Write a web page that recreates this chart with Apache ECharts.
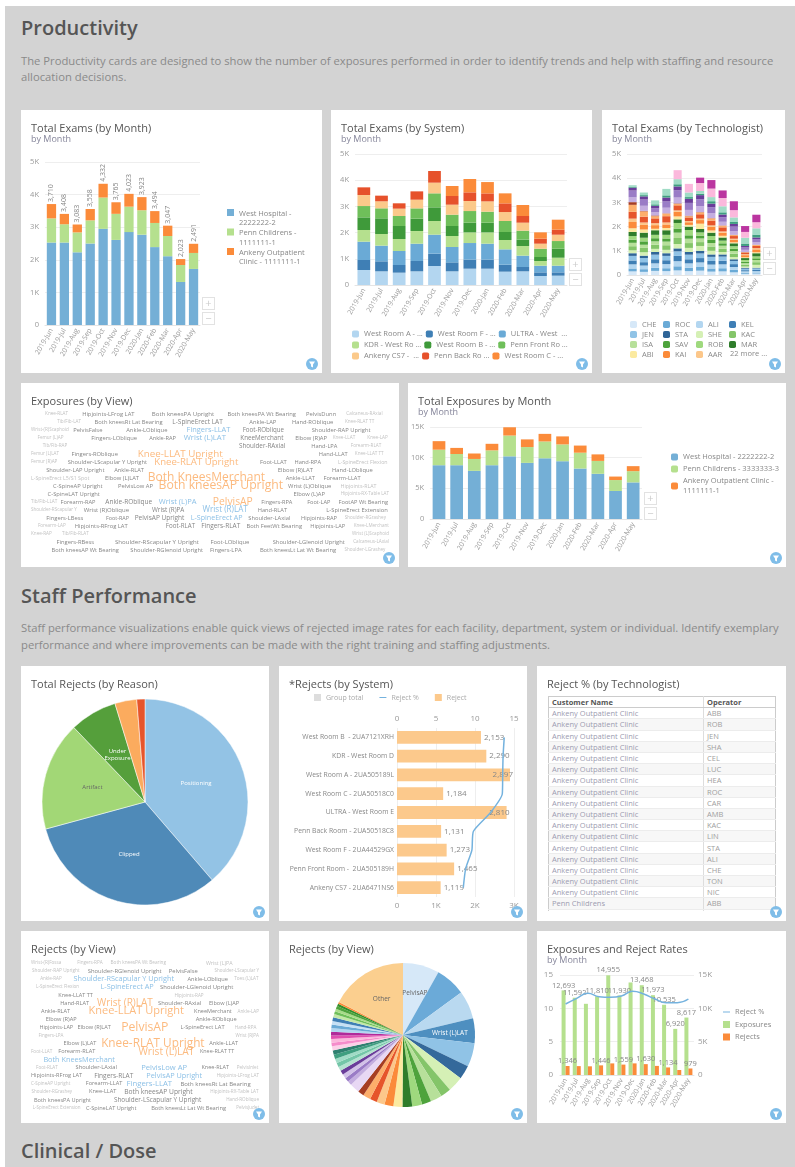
<!DOCTYPE html>
<html lang="en">
<head>
<meta charset="UTF-8">
<title>Productivity</title>
<script src="https://cdn.jsdelivr.net/npm/echarts@6/dist/echarts.min.js"></script>
<style>
    html, body { margin: 0; padding: 0; background: #fff; }
    body { width: 795px; height: 1167px; position: relative; overflow: hidden; font-family: "Open Sans", sans-serif; }
    .page { position: absolute; left: 5px; top: 6px; right: 0; bottom: 0; background: #d3d3d3; }
    .h { position: absolute; left: 21px; font-size: 20px; font-weight: 600; color: #555; white-space: nowrap; line-height: 26px; }
    .p { position: absolute; left: 21px; font-size: 11.25px; color: #8a8a8a; white-space: nowrap; line-height: 16px; }
    .card { position: absolute; background: #fff; }
    .card .chart { position: absolute; left: 0; top: 0; right: 0; bottom: 0; }
    .title { position: absolute; left: 10px; top: 10px; font-size: 11px; color: #555; white-space: nowrap; line-height: 15px; z-index: 2; }
    .sub { position: absolute; left: 10px; top: 23px; font-size: 9px; color: #85859a; white-space: nowrap; line-height: 12px; z-index: 2; }
    .zoom { position: absolute; width: 11px; height: 11px; border: 1px solid #e2e2e2; color: #ccc; font-size: 11px; line-height: 10px; text-align: center; z-index: 2; }
    .filter { position: absolute; right: 4px; bottom: 3px; width: 12px; height: 12px; border-radius: 6px; background: #7fbde8; z-index: 2; }
    .filter svg { display: block; }
    table { position: absolute; left: 11px; top: 30px; width: 228px; border-collapse: collapse; font-size: 7.5px; color: #9c9cb0; border: 1px solid #ccc; }
    td, th { padding: 0 3px; height: 10.2px; line-height: 10px; border-bottom: 1px solid #ececec; text-align: left; white-space: nowrap; }
    th { color: #555; font-weight: 700; border-bottom: 1px solid #ccc; }
    tr.alt td { background: #f7f7f7; }
    td.op { color: #a0a0a0; border-left: 1px solid #ddd; }
    th.op { border-left: 1px solid #ddd; width: 65px; }
    .clip { position: absolute; left: 0; top: 0; width: 100%; height: 245px; overflow: hidden; }
</style>
</head>
<body>
<div class="page"></div>
<div class="h" style="top:15px">Productivity</div>
<div class="p" style="top:53px">The Productivity cards are designed to show the number of exposures performed in order to identify trends and help with staffing and resource</div>
<div class="p" style="top:69px">allocation decisions.</div>
<div class="h" style="top:583px">Staff Performance</div>
<div class="p" style="top:620px">Staff performance visualizations enable quick views of rejected image rates for each facility, department, system or individual. Identify exemplary</div>
<div class="p" style="top:637px">performance and where improvements can be made with the right training and staffing adjustments.</div>
<div class="h" style="top:1138px">Clinical / Dose</div>

<script>
var months = ['2019-Jun', '2019-Jul', '2019-Aug', '2019-Sep', '2019-Oct', '2019-Nov', '2019-Dec', '2020-Jan', '2020-Feb', '2020-Mar', '2020-Apr', '2020-May'];

// Total Exams (by Month)
var examNames = ['West Hospital - 2222222-2', 'Penn Childrens - 1111111-1', 'Ankeny Outpatient Clinic - 1111111-1'];
var examWest = [2530, 2530, 2230, 2500, 2950, 2610, 2850, 2770, 2390, 2110, 1320, 1720];
var examPenn = [740, 560, 610, 710, 960, 800, 780, 750, 740, 620, 520, 490];
var examAnkeny = [440, 318, 243, 348, 422, 355, 393, 403, 364, 317, 183, 281];
var examTotals = [3710, 3408, 3083, 3558, 4332, 3765, 4023, 3923, 3494, 3047, 2023, 2491];

// Total Exams (by System)
var systemNames = ['West Room A - 2UA505189L', 'West Room F - 2UA44529GX', 'ULTRA - West Room E', 'KDR - West Room D', 'West Room B - 2UA7121XRH', 'Penn Front Room - 2UA505189H', 'Ankeny CS7 - 2UA6471NS6', 'Penn Back Room - 2UA50518C8', 'West Room C - 2UA50518C0'];
var sysA = [572, 522, 471, 522, 725, 522, 623, 623, 509, 522, 343, 356];
var sysF = [382, 382, 293, 394, 471, 343, 343, 343, 267, 165, 140, 127];
var sysU = [700, 598, 534, 661, 725, 585, 636, 611, 585, 433, 254, 254];
var sysK = [445, 445, 458, 483, 522, 420, 407, 432, 356, 369, 178, 305];
var sysB = [483, 598, 496, 471, 522, 382, 369, 369, 305, 242, 153, 343];
var sysPF = [432, 382, 382, 394, 534, 432, 445, 420, 420, 343, 318, 293];
var sysAn = [420, 267, 280, 331, 407, 382, 382, 394, 343, 305, 191, 242];
var sysPB = [293, 216, 204, 318, 445, 331, 331, 305, 331, 254, 191, 191];
var sysC = [0, 0, 0, 0, 0, 382, 509, 432, 382, 420, 242, 382];

// Total Exams (by Technologist), bottom of the stack first
var techNames = ['CHE', 'ROC', 'ALI', 'KEL', 'JEN', 'STA', 'SHE', 'KAC', 'ISA', 'SAV', 'ROB', 'MAR', 'ABI', 'KAI', 'AAR', 'SHA', 'CEL', 'LUC', 'HEA', 'CAR', 'AMB', 'LIN', 'TON', 'NIC', 'ABB'];
var techValues = [
    [150, 130, 170, 160, 190, 160, 180, 140, 150, 110, 50, 60],
    [120, 110, 130, 120, 170, 140, 150, 130, 130, 100, 40, 40],
    [170, 150, 180, 170, 210, 180, 190, 160, 160, 120, 60, 60],
    [160, 140, 170, 160, 220, 170, 180, 150, 150, 120, 50, 50],
    [190, 170, 190, 180, 190, 190, 190, 170, 170, 130, 60, 60],
    [110, 100, 110, 110, 120, 110, 110, 100, 90, 70, 40, 30],
    [120, 140, 130, 140, 180, 170, 200, 150, 100, 90, 50, 120],
    [170, 180, 170, 190, 250, 200, 160, 180, 140, 140, 80, 110],
    [140, 130, 140, 150, 220, 180, 150, 140, 120, 110, 60, 90],
    [130, 140, 130, 130, 170, 140, 120, 130, 100, 90, 60, 70],
    [150, 150, 140, 150, 230, 220, 130, 160, 110, 110, 70, 80],
    [170, 210, 190, 190, 150, 140, 140, 140, 130, 120, 80, 130],
    [150, 130, 60, 90, 120, 70, 220, 90, 70, 40, 30, 40],
    [260, 190, 150, 150, 190, 110, 150, 150, 130, 110, 90, 120],
    [140, 100, 80, 80, 60, 50, 60, 60, 50, 40, 40, 50],
    [280, 240, 200, 260, 210, 150, 180, 200, 170, 110, 60, 90],
    [290, 220, 90, 110, 60, 50, 80, 90, 70, 40, 20, 40],
    [110, 20, 30, 10, 20, 20, 10, 10, 10, 10, 10, 10],
    [200, 210, 130, 230, 240, 240, 250, 200, 150, 150, 90, 100],
    [280, 260, 170, 260, 300, 290, 280, 250, 190, 190, 100, 120],
    [120, 130, 100, 160, 160, 170, 170, 150, 110, 110, 60, 80],
    [30, 50, 60, 90, 90, 70, 60, 100, 90, 80, 100, 120],
    [70, 108, 163, 268, 210, 190, 110, 170, 250, 190, 240, 260],
    [0, 0, 0, 0, 372, 355, 330, 350, 340, 300, 240, 250],
    [0, 0, 0, 0, 0, 0, 223, 353, 314, 367, 243, 311]
];
var techMore = '22 more ...';

// Total Exposures by Month
var expoNames = ['West Hospital - 2222222-2', 'Penn Childrens - 3333333-3', 'Ankeny Outpatient Clinic - 1111111-1'];
var expoWest = [8770, 8770, 7850, 8770, 10220, 9150, 9900, 9420, 8230, 7370, 4570, 5970];
var expoPenn = [2530, 1830, 1940, 2420, 3390, 2580, 2740, 2740, 2580, 2100, 1780, 1830];
var expoAnkeny = [1393, 992, 890, 1070, 1345, 1250, 1240, 1308, 1163, 1065, 570, 817];

// Exposures (by View), word and count, one list per line of the cloud
var expoWords = [
    [['Knee-RLAT', 120], ['Hipjoints-LFrog LAT', 240], ['Both kneesPA Upright', 270], ['Both kneesPA Wt Bearing', 240], ['PelvisDunn', 240], ['Calcaneus-RAxial', 120]],
    [['Tib/Fib-LAT', 120], ['Both kneesRt Lat Bearing', 240], ['L-SpineErect LAT', 310], ['Ankle-LAP', 240], ['Hand-ROblique', 240], ['Knee-RLAT TT', 120]],
    [['Wrist-(R)Scaphoid', 120], ['PelvisFalse', 240], ['Ankle-LOblique', 240], ['Fingers-LLAT', 400], ['Foot-ROblique', 280], ['Shoulder-RAP Upright', 240]],
    [['Femur (L)AP', 120], ['Fingers-LOblique', 240], ['Ankle-RAP', 220], ['Wrist (L)LAT', 430], ['KneeMerchant', 290], ['Elbow (R)AP', 240], ['Knee-LLAT', 120], ['Knee-LAP', 120]],
    [['Tib/Fib-RAP', 120], ['Shoulder-RAxial', 290], ['Hand-LPA', 230], ['Forearm-RLAT', 120]],
    [['Femur (L)LAT', 120], ['Fingers-ROblique', 240], ['Knee-LLAT Upright', 640], ['Hand-LLAT', 230], ['Knee-LLAT TT', 120]],
    [['Femur (R)AP', 120], ['Shoulder-LScapular Y Upright', 240], ['Knee-RLAT Upright', 620], ['Foot-LLAT', 240], ['Hand-RPA', 230], ['L-SpineErect Flexion', 190]],
    [['Shoulder-LAP Upright', 240], ['Ankle-RLAT', 230], ['Elbow (R)LAT', 250], ['Hand-LOblique', 240]],
    [['L-SpineErect L5/S1 Spot', 190], ['Elbow (L)LAT', 240], ['Both KneesMerchant', 860], ['Ankle-LLAT', 230], ['Forearm-LLAT', 230]],
    [['C-SpineAP Upright', 240], ['PelvisLow AP', 240], ['Both kneesAP Upright', 880], ['Wrist (L)Oblique', 240], ['Hipjoints-RLAT', 190]],
    [['C-SpineLAT Upright', 240], ['Elbow (L)AP', 240], ['Hipjoints-RX-Table LAT', 120]],
    [['Tib/Fib-LLAT', 120], ['Forearm-RAP', 230], ['Ankle-ROblique', 310], ['Wrist (L)PA', 410], ['PelvisAP', 690], ['Fingers-RPA', 220], ['Foot-LAP', 220], ['FootAP Wt Bearing', 230]],
    [['Shoulder-RScapular Y', 120], ['Wrist (R)Oblique', 260], ['Wrist (R)PA', 290], ['Wrist (R)LAT', 470], ['Hand-RLAT', 230], ['L-SpineErect Extension', 240]],
    [['Fingers-LBess', 240], ['Foot-RAP', 200], ['PelvisAP Upright', 310], ['L-SpineErect AP', 370], ['Shoulder-LAxial', 240], ['Hipjoints-RAP', 230], ['Shoulder-RGrashey', 120]],
    [['Forearm-LAP', 120], ['Hipjoints-RFrog LAT', 240], ['Foot-RLAT', 280], ['Fingers-RLAT', 310], ['Both FeetWt Bearing', 240], ['Hipjoints-LAP', 220], ['Knee-LMerchant', 120]],
    [['Knee-RAP', 120], ['Tib/Fib-RLAT', 120], ['Wrist (L)Scaphoid', 120]],
    [['Fingers-RBess', 240], ['Shoulder-RScapular Y Upright', 270], ['Foot-LOblique', 250], ['Shoulder-LGlenoid Upright', 240], ['Calcaneus-LAxial', 120]],
    [['Both kneesAP Wt Bearing', 230], ['Shoulder-RGlenoid Upright', 240], ['Fingers-LPA', 240], ['Both kneesLt Lat Wt Bearing', 240], ['Shoulder-LGrashey', 120]]
];

// Total Rejects (by Reason)
var reasonNames = ['Positioning', 'Clipped', 'Artifact', 'Under\nExposure', 'Exposure', 'Other'];
var reasonValues = [6200, 5140, 2740, 1190, 550, 205];

// *Rejects (by System)
var rejectSystems = ['West Room B  - 2UA7121XRH', 'KDR - West Room D', 'West Room A - 2UA505189L', 'West Room C - 2UA50518C0', 'ULTRA - West Room E', 'Penn Back Room - 2UA50518C8', 'West Room F - 2UA44529GX', 'Penn Front Room -  2UA505189H', 'Ankeny CS7 - 2UA6471NS6'];
var rejectCounts = [2153, 2290, 2897, 1184, 2810, 1131, 1273, 1465, 1119];
var rejectPercents = [13.75, 13.6, 13.55, 13.5, 12.0, 9.8, 9.6, 8.8, 8.5];

// Reject % (by Technologist)
var tableCustomers = ['Ankeny Outpatient Clinic', 'Ankeny Outpatient Clinic', 'Ankeny Outpatient Clinic', 'Ankeny Outpatient Clinic', 'Ankeny Outpatient Clinic', 'Ankeny Outpatient Clinic', 'Ankeny Outpatient Clinic', 'Ankeny Outpatient Clinic', 'Ankeny Outpatient Clinic', 'Ankeny Outpatient Clinic', 'Ankeny Outpatient Clinic', 'Ankeny Outpatient Clinic', 'Ankeny Outpatient Clinic', 'Ankeny Outpatient Clinic', 'Ankeny Outpatient Clinic', 'Ankeny Outpatient Clinic', 'Ankeny Outpatient Clinic', 'Penn Childrens', 'Penn Childrens'];
var tableOperators = ['ABB', 'ROB', 'JEN', 'SHA', 'CEL', 'LUC', 'HEA', 'ROC', 'CAR', 'AMB', 'KAC', 'LIN', 'STA', 'ALI', 'CHE', 'TON', 'NIC', 'ABB', 'ALI'];

// Rejects (by View) cloud
var rejectWords = [
    [['Wrist-(R)Fossa', 120], ['Fingers-RPA', 120], ['Both kneesPA Wt Bearing', 130], ['Wrist (L)PA', 190]],
    [['Shoulder-RAP Upright', 130], ['Shoulder-RGlenoid Upright', 250], ['PelvisFalse', 240], ['Shoulder-LScapular Y', 110]],
    [['Ankle-RAP', 110], ['Shoulder-RScapular Y Upright', 390], ['Ankle-LOblique', 230], ['Toes (L)LAT', 120]],
    [['L-SpineErect Flexion', 120], ['L-SpineErect AP', 390], ['Shoulder-LGlenoid Upright', 250]],
    [['Knee-LLAT TT', 210], ['Hipjoints-RAP', 120]],
    [['Hand-RLAT', 220], ['Wrist (R)LAT', 660], ['Shoulder-RAxial', 250], ['Elbow (L)AP', 220]],
    [['Ankle-RLAT', 220], ['Knee-LLAT Upright', 760], ['KneeMerchant', 210], ['Ankle-LAP', 120]],
    [['Elbow (R)AP', 220], ['Ankle-ROblique', 230]],
    [['Hipjoints-LAP', 200], ['Elbow (R)LAT', 220], ['PelvisAP', 880], ['L-SpineErect LAT', 230], ['Hand-RPA', 120]],
    [['Fingers-LPA', 120], ['Wrist (R)PA', 120]],
    [['Elbow (L)LAT', 220], ['Knee-RLAT Upright', 840], ['Ankle-LLAT', 220]],
    [['Foot-LLAT', 120], ['Forearm-RLAT', 220], ['Wrist (L)LAT', 680], ['Knee-RLAT TT', 200]],
    [['Both KneesMerchant', 390]],
    [['Foot-RLAT', 120], ['Shoulder-LAxial', 230], ['PelvisLow AP', 420], ['Knee-RLAT', 210], ['PelvisInlet', 120]],
    [['Hipjoints-RFrog LAT', 220], ['Fingers-RLAT', 310], ['PelvisAP Upright', 390], ['Hipjoints-LFrog LAT', 130]],
    [['C-SpineAP Upright', 120], ['Forearm-LLAT', 220], ['Fingers-LLAT', 430], ['Both kneesRt Lat Bearing', 260]],
    [['Shoulder-RGrashey', 110], ['Knee-LLAT', 220], ['Both kneesAP Upright', 330], ['Hipjoints-RX-Table LAT', 120]],
    [['Both kneesPA Upright', 220], ['Shoulder-LScapular Y Upright', 300], ['Hand-ROblique', 120]],
    [['L-SpineErect Extension', 110], ['C-SpineLAT Upright', 220], ['Both kneesLt Lat Wt Bearing', 230], ['PelvisJudet', 110]]
];

// Rejects (by View) pie
var viewNames = ['PelvisAP', 'Knee-RLAT Upright', 'Knee-LLAT Upright', 'Wrist (L)LAT', 'Wrist (R)LAT', 'PelvisLow AP', 'Both kneesAP Upright', 'Fingers-LLAT', 'Fingers-RLAT', 'PelvisAP Upright', 'L-SpineErect AP', 'Both KneesMerchant', 'Shoulder-RScapular Y Upright', 'Shoulder-LScapular Y Upright', 'Ankle-ROblique', 'Knee-LLAT', 'Hand-RLAT', 'Elbow (R)LAT', 'Elbow (L)LAT', 'Elbow (R)AP', 'Elbow (L)AP', 'Forearm-RLAT', 'Forearm-LLAT', 'Foot-RLAT', 'Foot-LLAT', 'Ankle-LAP', 'Ankle-RLAT', 'Ankle-LLAT', 'Hipjoints-LAP', 'Hipjoints-RAP', 'Hand-RPA', 'Knee-RLAT', 'Knee-RLAT TT', 'Knee-LLAT TT', 'C-SpineAP Upright', 'C-SpineLAT Upright', 'L-SpineErect LAT', 'Shoulder-RAxial', 'Shoulder-LAxial', 'Fingers-RPA', 'Fingers-LPA', 'Wrist (R)PA', 'PelvisDunn', 'Other'];
var viewValues = [1302, 1074, 1003, 880, 849, 493, 550, 370, 414, 330, 352, 348, 321, 317, 286, 255, 273, 220, 348, 154, 150, 158, 152, 156, 150, 156, 154, 150, 152, 130, 125, 128, 132, 126, 130, 126, 128, 124, 98, 96, 100, 94, 62, 2772];

// Exposures and Reject Rates
var comboExposures = [12693, 11592, 10680, 11810, 14955, 11930, 13880, 13468, 11973, 10535, 6920, 8617];
var comboRejects = [1346, 1332, 1302, 1446, 1740, 1559, 1742, 1630, 1365, 1134, 750, 979];
var comboPercents = [10.65, 11.5, 12.25, 11.75, 11.65, 11.85, 12.55, 12.15, 11.4, 10.85, 10.85, 11.4];

var FONT = '"Open Sans", sans-serif';
var AXIS_TEXT = '#999';
var LINE_BLUE = '#74b2de';
var LINE_ICON = 'path://M0 4h10v1.4H0z';

function addCard(left, top, width, height, title, sub) {
    var card = document.createElement('div');
    card.className = 'card';
    card.style.cssText = 'left:' + left + 'px;top:' + top + 'px;width:' + width + 'px;height:' + height + 'px';
    card.innerHTML = '<div class="chart"></div><div class="title">' + title + '</div>' +
        (sub ? '<div class="sub">' + sub + '</div>' : '') +
        '<div class="filter"><svg width="12" height="12"><path d="M3 3.5h6L7 6.5v3L5 8.5v-2z" fill="#fff"/></svg></div>';
    document.body.appendChild(card);
    return card;
}

function addZoom(card, x, y) {
    var plus = document.createElement('div');
    plus.className = 'zoom';
    plus.style.cssText = 'left:' + x + 'px;top:' + y + 'px';
    plus.textContent = '+';
    var minus = document.createElement('div');
    minus.className = 'zoom';
    minus.style.cssText = 'left:' + x + 'px;top:' + (y + 15) + 'px';
    minus.textContent = '\u2212';
    card.appendChild(plus);
    card.appendChild(minus);
}

function initChart(card, option) {
    var chart = echarts.init(card.querySelector('.chart'));
    option.animation = false;
    option.textStyle = { fontFamily: FONT };
    chart.setOption(option);
    return chart;
}

function kLabel(v) {
    return v === 0 ? '0' : (v / 1000) + 'K';
}

function monthAxis() {
    return {
        type: 'category',
        data: months,
        axisTick: { show: false },
        axisLine: { lineStyle: { color: '#e4e4e4' } },
        axisLabel: { rotate: 60, interval: 0, fontSize: 7, color: AXIS_TEXT, margin: 4 }
    };
}

function countAxis(max, interval) {
    return {
        type: 'value',
        min: 0,
        max: max,
        interval: interval,
        axisLine: { show: false },
        axisTick: { show: false },
        splitLine: { lineStyle: { color: '#eeeeee' } },
        axisLabel: { fontSize: 7.5, color: AXIS_TEXT, margin: 6, formatter: kLabel }
    };
}

function stackBar(name, values, color, extra) {
    var s = { name: name, type: 'bar', stack: 'all', data: values, barWidth: '72%', itemStyle: { color: color } };
    for (var k in extra) s[k] = extra[k];
    return s;
}

// -- Productivity --
var HOSPITAL_COLORS = ['#74afd6', '#b5e08e', '#fb8b3a'];
// square on the first line of a two line legend entry
var TOP_SQUARE = 'path://M0 0h7v7H0zM0 19h0.01';

var card1 = addCard(21, 110, 301, 263, 'Total Exams (by Month)', 'by Month');
addZoom(card1, 181, 187);
initChart(card1, {
    grid: { left: 24, top: 52, width: 155, height: 163 },
    xAxis: monthAxis(),
    yAxis: countAxis(5000, 1000),
    legend: {
        orient: 'vertical', left: 206, top: 99, itemWidth: 7, itemHeight: 19, itemGap: 0.5, padding: 0, icon: TOP_SQUARE,
        textStyle: { fontSize: 7.5, color: '#888', lineHeight: 9.5 },
        formatter: function (n) { return n.replace(' - ', ' -\n').replace('Outpatient Clinic -\n', 'Outpatient\nClinic - '); }
    },
    series: [
        stackBar(examNames[0], examWest, HOSPITAL_COLORS[0]),
        stackBar(examNames[1], examPenn, HOSPITAL_COLORS[1]),
        stackBar(examNames[2], examAnkeny, HOSPITAL_COLORS[2], {
            label: {
                show: true, position: 'top', rotate: 90, align: 'left', verticalAlign: 'middle',
                fontSize: 7, color: '#888', distance: 2,
                formatter: function (p) { return examTotals[p.dataIndex].toLocaleString('en-US'); }
            }
        })
    ]
});

var SYSTEM_COLORS = ['#b3d6f0', '#3f7fb5', '#6aaad6', '#b5e08e', '#3f9a3a', '#6fbf5a', '#fbc98a', '#e6512b', '#fb8b3a'];
var systemValues = [sysA, sysF, sysU, sysK, sysB, sysPF, sysAn, sysPB, sysC];
var card2 = addCard(331, 110, 261, 263, 'Total Exams (by System)', 'by Month');
addZoom(card2, 238, 148);
initChart(card2, {
    grid: { left: 24, top: 44, width: 212, height: 131 },
    xAxis: monthAxis(),
    yAxis: countAxis(5000, 1000),
    legend: {
        left: 21, top: 220, width: 232, itemWidth: 7, itemHeight: 7, itemGap: 3, padding: 0,
        textStyle: { fontSize: 7.5, color: '#888', width: 60, overflow: 'truncate', ellipsis: ' ...' }
    },
    series: systemNames.map(function (n, i) {
        return stackBar(n, systemValues[i], SYSTEM_COLORS[i]);
    })
});

var TECH_COLORS = ['#d6e8f8', '#6aaad6', '#b3d6f0', '#3f7fb5', '#90c3e6', '#2f6598', '#d5f0b5', '#84c569', '#b7e09a', '#4ea33c', '#9fd97e', '#2f7d2b', '#fbeaa0', '#fb8b3a', '#fcc78a', '#e6552b', '#fdae6b', '#a63d22', '#c4aee0', '#9a7cc6', '#6a3d9a', '#3f9f80', '#a0dcc6', '#fbb8dc', '#bb35a0'];
var card3 = addCard(602, 110, 183, 263, 'Total Exams (by Technologist)', 'by Month');
addZoom(card3, 161, 137);
initChart(card3, {
    grid: { left: 25, top: 44, width: 135, height: 121 },
    xAxis: monthAxis(),
    yAxis: countAxis(5000, 1000),
    legend: {
        data: techNames.slice(0, 15), left: 28, top: 210, width: 136, itemWidth: 7, itemHeight: 7, itemGap: 1, padding: 0,
        formatter: '{a|{name}}',
        textStyle: { fontSize: 7.5, color: '#888', lineHeight: 9, rich: { a: { width: 20, fontSize: 7.5, color: '#888', lineHeight: 9 } } }
    },
    graphic: [{ type: 'text', left: 128, top: 240, style: { text: techMore, fontSize: 7.5, fill: '#888', fontFamily: FONT } }],
    series: techNames.map(function (n, i) {
        return stackBar(n, techValues[i], TECH_COLORS[i]);
    })
});

// word clouds: size and colour follow the count, the gaps below spread each line
function wordSize(v) {
    return 3.4 + v / 100;
}

function wordColor(v) {
    if (v < 200) return '#b2b2b2';
    if (v < 365) return '#666666';
    if (v < 500) return '#6fb0e0';
    return '#fba95f';
}

// relative room before each word of a line, and after the last one
var EXPO_GAPS = [
    [35, 35, 43, 33, 25, 25, 16],
    [67, 35, 25, 68, 40, 30, 38],
    [0, 12, 62, 50, 32, 72, 48],
    [15, 64, 28, 18, 33, 27, 13, 28, 3],
    [35, 510, 77, 40, 23],
    [0, 35, 55, 268, 20, 15],
    [0, 22, 15, 45, 16, 35, 3],
    [45, 29, 398, 57, 48],
    [0, 42, 23, 55, 23, 76],
    [67, 47, 17, 15, 28, 38],
    [49, 571, 47, 0],
    [0, 10, 30, 20, 50, 26, 45, 25, 3],
    [0, 17, 58, 46, 25, 99, 3],
    [40, 60, 15, 17, 15, 28, 20, 8],
    [17, 22, 93, 15, 15, 20, 21, 0],
    [0, 30, 768, 0],
    [55, 45, 25, 50, 18, 0],
    [45, 25, 15, 40, 18, 8]
];
var REJECT_GAPS = [
    [0, 50, 25, 125, 83],
    [2, 16, 14, 33, 0],
    [37, 48, 54, 26, 2],
    [12, 50, 15, 60],
    [82, 245, 166],
    [85, 23, 15, 22, 58],
    [27, 50, 28, 16, 0],
    [45, 362, 68],
    [19, 10, 23, 27, 23, 6],
    [22, 505, 0],
    [90, 13, 13, 58, 0],
    [0, 16, 115, 15, 66],
    [37, 430],
    [15, 53, 72, 43, 23, 2],
    [0, 35, 38, 42, 0],
    [0, 43, 12, 23, 23],
    [2, 65, 30, 68, 2],
    [7, 55, 60, 0],
    [4, 13, 35, 24, 0]
];

function cloudSeries(rows, gaps, width) {
    var ctx = document.createElement('canvas').getContext('2d');
    var data = [];
    rows.forEach(function (row, r) {
        var total = 0, sizes = [];
        row.forEach(function (w) {
            ctx.font = wordSize(w[1]) + 'px "Open Sans"';
            var m = ctx.measureText(w[0]).width;
            sizes.push(m);
            total += m;
        });
        var weight = 0;
        gaps[r].forEach(function (g) { weight += g; });
        var unit = Math.max(0, width - total) / weight;
        var x = 0;
        row.forEach(function (w, i) {
            x += gaps[r][i] * unit;
            data.push({
                value: [x + sizes[i] / 2, r],
                name: w[0],
                label: { fontSize: wordSize(w[1]), color: wordColor(w[1]) }
            });
            x += sizes[i];
        });
    });
    return {
        type: 'scatter', symbolSize: 1, itemStyle: { color: 'rgba(0,0,0,0)' }, data: data,
        label: { show: true, position: 'inside', formatter: function (p) { return p.name; } }
    };
}

function cloudOption(rows, gaps, left, top, width, height) {
    var hidden = { show: false };
    return {
        grid: { left: left, top: top, width: width, height: height },
        xAxis: { type: 'value', min: 0, max: width, axisLine: hidden, axisTick: hidden, axisLabel: hidden, splitLine: hidden },
        yAxis: { type: 'value', min: 0, max: rows.length - 1, inverse: true, axisLine: hidden, axisTick: hidden, axisLabel: hidden, splitLine: hidden },
        series: [cloudSeries(rows, gaps, width)]
    };
}

var card4 = addCard(21, 383, 378, 184, 'Exposures (by View)');
initChart(card4, cloudOption(expoWords, EXPO_GAPS, 10, 31, 358, 136));

var card5 = addCard(408, 383, 378, 184, 'Total Exposures by Month', 'by Month');
addZoom(card5, 236, 109);
initChart(card5, {
    grid: { left: 22, top: 44, width: 212, height: 92 },
    xAxis: monthAxis(),
    yAxis: countAxis(15000, 5000),
    legend: {
        orient: 'vertical', left: 263, top: 69, itemWidth: 7, itemHeight: 7, itemGap: 2, padding: 0,
        textStyle: { fontSize: 7.5, color: '#888', lineHeight: 10 },
        formatter: function (n) { return n.replace('Clinic - ', 'Clinic -\n'); }
    },
    series: [
        stackBar(expoNames[0], expoWest, HOSPITAL_COLORS[0]),
        stackBar(expoNames[1], expoPenn, HOSPITAL_COLORS[1]),
        stackBar(expoNames[2], expoAnkeny, HOSPITAL_COLORS[2])
    ]
});

// -- Staff Performance --
var REASON_COLORS = ['#93c3e5', '#4f8ab8', '#a2d776', '#559f3b', '#fbab5e', '#e6552b'];
var card6 = addCard(21, 666, 248, 255, 'Total Rejects (by Reason)');
initChart(card6, {
    series: [{
        type: 'pie', center: [124, 136], radius: [0, 103], startAngle: 90,
        data: reasonNames.map(function (n, i) {
            return {
                name: n, value: reasonValues[i], itemStyle: { color: REASON_COLORS[i] },
                label: { show: i < 4, color: i === 2 ? '#666' : '#fff' }
            };
        }),
        label: { position: 'inside', fontSize: 6, lineHeight: 7.5 },
        labelLine: { show: false },
        itemStyle: { borderColor: '#fff', borderWidth: 0.5 }
    }]
});

var card7 = addCard(279, 666, 248, 255, '*Rejects (by System)');
initChart(card7, {
    grid: { left: 118, top: 62, width: 117, height: 169 },
    legend: {
        left: 35, top: 28, itemWidth: 7, itemHeight: 7, itemGap: 16, padding: 0,
        data: [
            { name: 'Group total', icon: 'rect' },
            { name: 'Reject %', icon: LINE_ICON, itemStyle: { color: LINE_BLUE } },
            { name: 'Reject', icon: 'rect' }
        ],
        textStyle: { fontSize: 7, color: '#aaa' }
    },
    xAxis: [
        {
            type: 'value', position: 'bottom', min: 0, max: 3000, interval: 1000,
            axisLine: { show: false }, axisTick: { show: false },
            splitLine: { lineStyle: { color: '#eeeeee' } },
            axisLabel: { fontSize: 8, color: AXIS_TEXT, margin: 5, formatter: kLabel }
        },
        {
            type: 'value', position: 'top', min: 0, max: 15, interval: 5,
            axisLine: { show: false }, axisTick: { show: false }, splitLine: { show: false },
            axisLabel: { fontSize: 8, color: AXIS_TEXT, margin: 5 }
        }
    ],
    yAxis: {
        type: 'category', inverse: true, data: rejectSystems,
        axisLine: { show: false }, axisTick: { show: false },
        axisLabel: { fontSize: 6.8, color: '#888', margin: 3, interval: 0 }
    },
    series: [
        { name: 'Group total', type: 'bar', stack: 'g', data: [], itemStyle: { color: '#dddddd' } },
        {
            name: 'Reject', type: 'bar', stack: 'g', barWidth: '68%', itemStyle: { color: '#fcc98c' },
            data: rejectCounts.map(function (v) {
                // the longest bars keep their number at the end of the bar
                return v > 2700 ? { value: v, label: { position: 'insideRight', offset: [6, 0] } } : v;
            }),
            label: {
                show: true, position: 'right', fontSize: 8, color: '#888', distance: 3,
                formatter: function (p) { return p.value.toLocaleString('en-US'); }
            }
        },
        {
            name: 'Reject %', type: 'line', xAxisIndex: 1, smooth: 0.2, symbol: 'none', z: 5,
            data: rejectPercents, lineStyle: { color: LINE_BLUE, width: 1.5 }, itemStyle: { color: LINE_BLUE }
        }
    ]
});

var card8 = addCard(537, 666, 249, 255, 'Reject % (by Technologist)');
var rowsHtml = '<tr><th>Customer Name</th><th class="op">Operator</th></tr>';
tableCustomers.forEach(function (name, i) {
    rowsHtml += '<tr' + (i % 2 ? ' class="alt"' : '') + '><td>' + name + '</td><td class="op">' + tableOperators[i] + '</td></tr>';
});
var clipBox = document.createElement('div');
clipBox.className = 'clip';
clipBox.innerHTML = '<table>' + rowsHtml + '</table>';
card8.appendChild(clipBox);

var card9 = addCard(21, 931, 248, 192, 'Rejects (by View)');
initChart(card9, cloudOption(rejectWords, REJECT_GAPS, 10, 32, 228, 145));

var VIEW_COLORS = ['#d6e8f8', '#6baad8', '#b9d9f0', '#4e8fc0', '#90c3e6', '#34699b', '#d5f0b5', '#84c569', '#b7e09a', '#4ea33c', '#9fd97e', '#2f7d2b', '#fbeaa0', '#fb8b3a', '#fcc78a', '#e6552b', '#fdae6b', '#a63d22', '#e8d8f4', '#c4aee0', '#9a7cc6', '#d2c2e8', '#6a3d9a', '#b4e2d0', '#74c6a8', '#a0dcc6', '#3f9f80', '#2f8070', '#fcd0e8', '#f58ccb', '#fbb8dc', '#e04fb0', '#b02a9a', '#b3d6f0', '#6aaad6', '#c5e0f5', '#3f7fb5', '#c3e8a6', '#6fbf5a', '#a8dc88', '#4ea33c', '#2f8f2b', '#fb8b3a', '#fbcf8f'];
var VIEW_LABELS = {
    'PelvisAP': { color: '#666', offset: [2, -4] },
    'Wrist (L)LAT': { color: '#fff', offset: [8, 0] },
    'Other': { color: '#666', offset: [-1, -3] }
};
var card10 = addCard(279, 931, 248, 192, 'Rejects (by View)');
initChart(card10, {
    series: [{
        type: 'pie', center: [124, 104], radius: [0, 72], startAngle: 90,
        data: viewNames.map(function (n, i) {
            var c = VIEW_LABELS[n];
            return { name: n, value: viewValues[i], itemStyle: { color: VIEW_COLORS[i] }, label: c ? { show: true, color: c.color, offset: c.offset } : { show: false } };
        }),
        label: { position: 'inside', fontSize: 6.5 },
        labelLine: { show: false },
        itemStyle: { borderWidth: 0 }
    }]
});

var EXPOSURE_NO_LABEL = [2, 6];
var REJECT_WITH_LABEL = [0, 3, 5, 7, 9, 11];
var card11 = addCard(537, 931, 249, 192, 'Exposures and Reject Rates', 'by Month');
initChart(card11, {
    grid: { left: 23, top: 44, width: 134, height: 100 },
    legend: {
        orient: 'vertical', left: 186, top: 77, itemWidth: 7, itemHeight: 7, itemGap: 4.5, padding: 0,
        data: [
            { name: 'Reject %', icon: LINE_ICON, itemStyle: { color: LINE_BLUE } },
            { name: 'Exposures', icon: 'rect' },
            { name: 'Rejects', icon: 'rect' }
        ],
        textStyle: { fontSize: 7.5, color: '#888' }
    },
    xAxis: monthAxis(),
    yAxis: [
        {
            type: 'value', min: 0, max: 15, interval: 5, axisLine: { show: false }, axisTick: { show: false },
            splitLine: { lineStyle: { color: '#eeeeee' } }, axisLabel: { fontSize: 8, color: AXIS_TEXT, margin: 7 }
        },
        {
            type: 'value', min: 0, max: 15000, interval: 5000, axisLine: { show: false }, axisTick: { show: false },
            splitLine: { show: false }, axisLabel: { fontSize: 8, color: AXIS_TEXT, margin: 4, formatter: kLabel }
        }
    ],
    series: [
        {
            name: 'Exposures', type: 'bar', yAxisIndex: 1, data: comboExposures, barWidth: 4, barGap: 0, itemStyle: { color: '#b5e08e' },
            label: {
                show: true, position: 'top', fontSize: 7.5, color: '#888', distance: 1,
                formatter: function (p) { return EXPOSURE_NO_LABEL.indexOf(p.dataIndex) >= 0 ? '' : p.value.toLocaleString('en-US'); }
            }
        },
        {
            name: 'Rejects', type: 'bar', yAxisIndex: 1, data: comboRejects, barWidth: 4, itemStyle: { color: '#fb8b3a' },
            label: {
                show: true, position: 'top', fontSize: 7.5, color: '#888', distance: 1,
                formatter: function (p) { return REJECT_WITH_LABEL.indexOf(p.dataIndex) >= 0 ? p.value.toLocaleString('en-US') : ''; }
            }
        },
        {
            name: 'Reject %', type: 'line', yAxisIndex: 0, smooth: true, symbol: 'none', z: 5,
            data: comboPercents, lineStyle: { color: LINE_BLUE, width: 1.5 }, itemStyle: { color: LINE_BLUE }
        }
    ]
});
</script>
</body>
</html>
